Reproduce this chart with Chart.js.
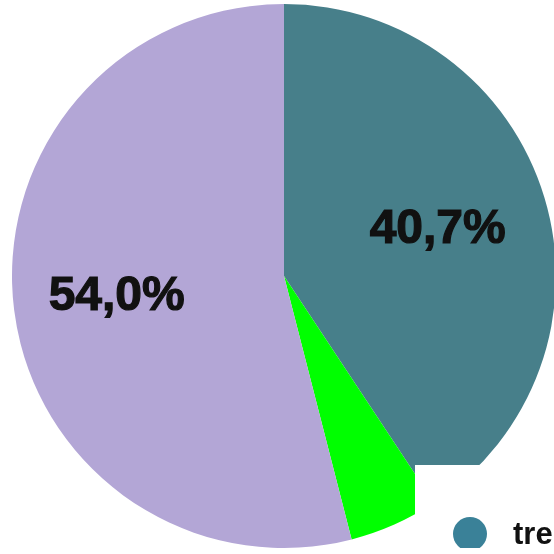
<!DOCTYPE html>
<html>
<head>
<meta charset="utf-8">
<script src="https://cdn.jsdelivr.net/npm/chart.js@4"></script>
<style>
  html, body { margin: 0; padding: 0; width: 554px; height: 554px; overflow: hidden; background: #fff; }
  #wrap { position: absolute; left: 12px; top: 4px; width: 544px; height: 544px; }
</style>
</head>
<body>
<div id="wrap"><canvas id="chart-pie" width="544" height="544"></canvas></div>
<script>
// values (percent)
const categories = ['tre', '', ''];
const shares = [40.7, 5.3, 54.0];
const shareLabels = ['40,7%', '', '54,0%'];
const sliceColors = ['#477f8a', '#00ff00', '#b3a6d6'];

// inline label + leftover legend drawing (no datalabels plugin available)
const pieLabels = {
    id: 'pieLabels',
    afterDatasetsDraw(chart, args, opts) {
        const ctx = chart.ctx;
        const meta = chart.getDatasetMeta(0);
        ctx.save();
        ctx.font = 'bold 48px "Liberation Sans", Arial, sans-serif';
        ctx.fillStyle = '#111';
        ctx.strokeStyle = '#111';
        ctx.lineWidth = 1.2;
        ctx.textAlign = 'center';
        ctx.textBaseline = 'middle';
        meta.data.forEach((arc, i) => {
            if (!shareLabels[i]) return;
            const p = arc.getProps(['x', 'y', 'startAngle', 'endAngle', 'outerRadius']);
            const mid = (p.startAngle + p.endAngle) / 2;
            const r = p.outerRadius * opts.radius[i];
            const x = p.x + Math.cos(mid) * r, y = p.y + Math.sin(mid) * r;
            ctx.fillText(shareLabels[i], x, y);
            ctx.strokeText(shareLabels[i], x, y);
        });
        ctx.restore();
    },
    afterDraw(chart) {
        // white legend box cut off in the corner
        const ctx = chart.ctx;
        ctx.save();
        ctx.fillStyle = '#fff';
        ctx.fillRect(403, 461, 200, 100);
        ctx.beginPath();
        ctx.arc(458, 530, 17, 0, Math.PI * 2);
        ctx.fillStyle = '#3a8198';
        ctx.fill();
        ctx.font = 'bold 31px "Liberation Sans", Arial, sans-serif';
        ctx.fillStyle = '#111';
        ctx.textBaseline = 'middle';
        ctx.fillText(categories[0], 501, 531);
        ctx.restore();
    }
};

new Chart(document.getElementById('chart-pie').getContext('2d'), {
    type: 'pie',
    data: {
        labels: categories,
        datasets: [{
            data: shares,
            backgroundColor: sliceColors,
            borderWidth: 0
        }]
    },
    options: {
        responsive: false,
        animation: false,
        layout: { padding: 0 },
        plugins: {
            legend: { display: false },
            tooltip: { enabled: false },
            pieLabels: { radius: [0.59, 0, 0.62] }
        }
    },
    plugins: [pieLabels]
});
</script>
</body>
</html>
